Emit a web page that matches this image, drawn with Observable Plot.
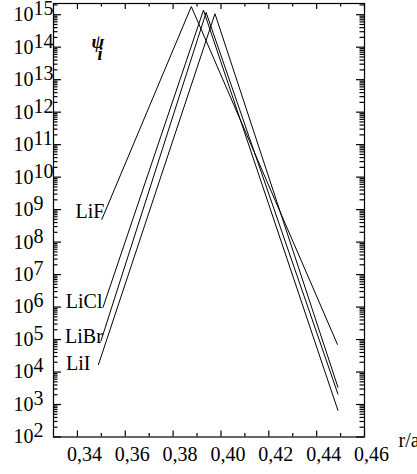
<!DOCTYPE html>
<html><head><meta charset="utf-8">
<script src="https://cdn.jsdelivr.net/npm/d3@7"></script>
<script src="https://cdn.jsdelivr.net/npm/@observablehq/plot@0.6"></script>
<style>html,body{margin:0;padding:0;background:#fff;overflow:hidden}</style>
</head><body><div id="chart"></div>
<script>
// r/a values and psi_i values
const LiF_r = [0.3502, 0.3876, 0.4487];
const LiF_psi = [5.0e8, 1.78e15, 7.1e4];
const LiCl_r = [0.3507, 0.3927, 0.4489];
const LiCl_psi = [9.8e5, 1.38e15, 6.6e2];
const LiBr_r = [0.3498, 0.3938, 0.4489];
const LiBr_psi = [8.9e4, 1.17e15, 2.1e3];
const LiI_r = [0.3488, 0.3975, 0.4489];
const LiI_psi = [1.7e4, 1.07e15, 3.4e3];

const seriesNames = ["LiF", "LiCl", "LiBr", "LiI"];
const seriesR = [LiF_r, LiCl_r, LiBr_r, LiI_r];
const seriesPsi = [LiF_psi, LiCl_psi, LiBr_psi, LiI_psi];

// ticks
const xMajor = [0.34, 0.36, 0.38, 0.40, 0.42, 0.44, 0.46];
const xMinor = [0.35, 0.37, 0.39, 0.41, 0.43, 0.45];
const yExponents = [2,3,4,5,6,7,8,9,10,11,12,13,14,15];
const yMajor = yExponents.map(e => Math.pow(10, e));
const yMinor = yExponents.flatMap(e => [2,3,4,5,6,7,8,9].map(k => k * Math.pow(10, e))).filter(v => v < Math.pow(10, 15.345));

const rows = seriesNames.flatMap((name, i) => seriesR[i].map((r, j) => ({name, r, psi: seriesPsi[i][j]})));
const first = name => rows.filter(d => d.name === name).slice(0, 1);

const W = 417, H = 474, ML = 53, MR = 53, MT = 3, MB = 37.5;
const FW = W - ML - MR, FH = H - MT - MB;

const serif = "'Liberation Serif', 'Times New Roman', serif";
const fmtX = d => d3.format(".2f")(d).replace(".", ",");
// inward ticks as short rules inset from the opposite side of the frame
const tickBottom = (v, s) => Plot.ruleX(v, {x: d => d, insetTop: FH - s, stroke: "black", strokeWidth: 1.2});
const tickTop = (v, s) => Plot.ruleX(v, {x: d => d, insetBottom: FH - s, stroke: "black", strokeWidth: 1.2});
const tickLeft = (v, s) => Plot.ruleY(v, {y: d => d, insetRight: FW - s, stroke: "black", strokeWidth: 1.2});
const tickRight = (v, s) => Plot.ruleY(v, {y: d => d, insetLeft: FW - s, stroke: "black", strokeWidth: 1.2});

const chart = Plot.plot({
  width: W,
  height: H,
  marginLeft: ML,
  marginRight: MR,
  marginTop: MT,
  marginBottom: MB,
  style: {fontFamily: serif, fontSize: "20px", background: "#fff", color: "#000"},
  x: {domain: [0.33, 0.46], axis: null},
  y: {type: "log", domain: [1e2, Math.pow(10, 15.345)], axis: null},
  marks: [
    Plot.frame({stroke: "black", strokeWidth: 1.2}),
    tickBottom(xMajor, 6), tickBottom(xMinor, 3.5),
    tickTop(xMajor, 6), tickTop(xMinor, 3.5),
    tickLeft(yMajor, 8), tickLeft(yMinor, 4.5),
    tickRight(yMajor, 8), tickRight(yMinor, 4.5),
    Plot.axisX(xMajor, {anchor: "bottom", tickSize: 0, tickPadding: 10, dx: 7, tickFormat: fmtX, fontSize: 20, fontFamily: serif, label: null}),
    Plot.axisY(yMajor, {anchor: "left", tickSize: 0, tickPadding: 20, tickFormat: () => "10", fontSize: 20, fontFamily: serif, label: null}),
    Plot.axisY(yMajor, {anchor: "left", tickSize: 0, tickPadding: 20, textAnchor: "start", dy: -6, tickFormat: d => String(Math.round(Math.log10(d))), fontSize: 20, fontFamily: serif, label: null}),
    Plot.line(rows, {x: "r", y: "psi", z: "name", stroke: "black", strokeWidth: 1}),
    Plot.text(first("LiF"), {x: "r", y: "psi", text: "name", textAnchor: "end", dx: 2.5, dy: -8, fontSize: 20, fontFamily: serif}),
    Plot.text(first("LiCl"), {x: "r", y: "psi", text: "name", textAnchor: "end", dx: -0.5, dy: -6, fontSize: 20, fontFamily: serif}),
    Plot.text(first("LiBr"), {x: "r", y: "psi", text: "name", textAnchor: "end", dx: 2, dy: -5, fontSize: 20, fontFamily: serif}),
    Plot.text(first("LiI"), {x: "r", y: "psi", text: "name", textAnchor: "end", dx: -8, dy: -1, fontSize: 20, fontFamily: serif}),
    Plot.text(["ψ"], {frameAnchor: "top-left", dx: 38, dy: 31, text: d => d, fontSize: 19, fontWeight: "bold", fontStyle: "italic", fontFamily: serif}),
    Plot.text(["i"], {frameAnchor: "top-left", dx: 44, dy: 44, text: d => d, fontSize: 18, fontWeight: "bold", fontStyle: "italic", fontFamily: serif}),
    Plot.text(["r/a"], {frameAnchor: "bottom-right", dx: 34, dy: 10, textAnchor: "start", text: d => d, fontSize: 20, fontFamily: serif})
  ]
});
document.getElementById("chart").appendChild(chart);
</script>
</body></html>
